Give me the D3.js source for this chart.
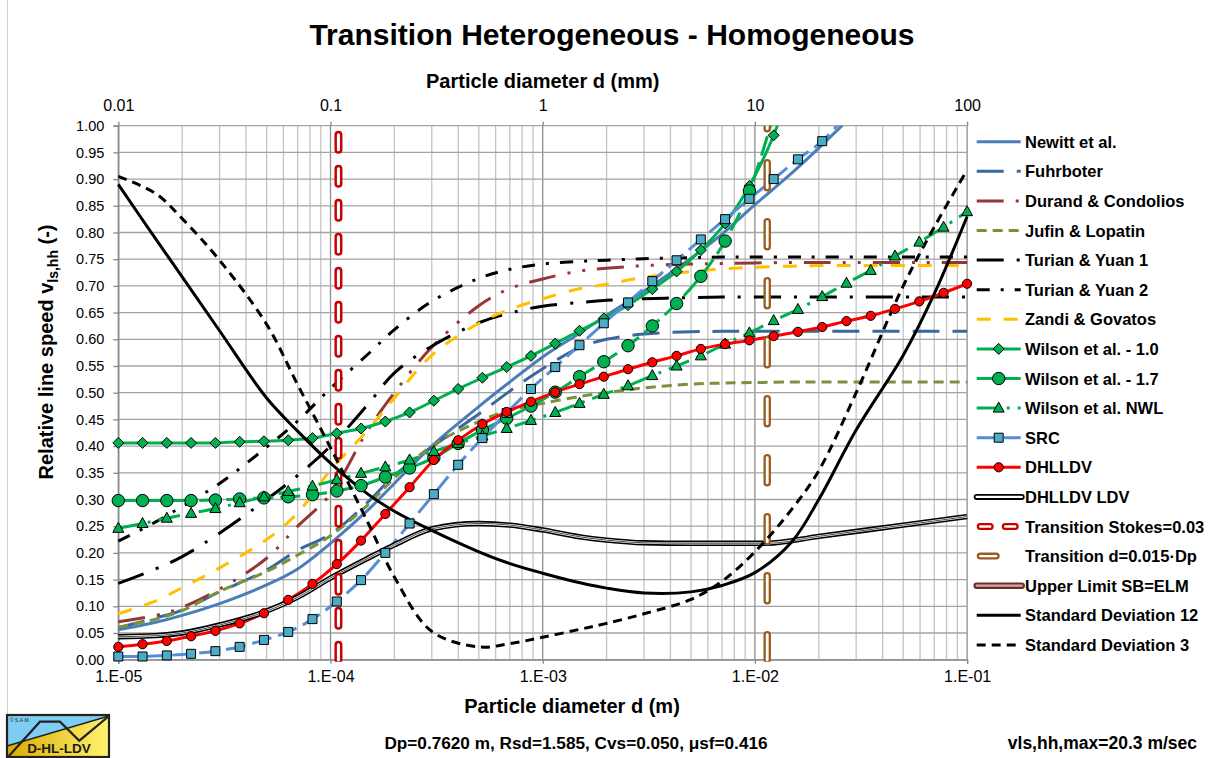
<!DOCTYPE html>
<html><head><meta charset="utf-8">
<script src="https://cdn.jsdelivr.net/npm/d3@7"></script>
<style>
body{margin:0;background:#fff;}
svg{display:block;font-family:"Liberation Sans",Arial,sans-serif;}
</style>
</head><body>
<svg id="chart" width="1213" height="758"></svg>
<script>
// ---------------- DATA ----------------
const yTicks = [0,0.05,0.10,0.15,0.20,0.25,0.30,0.35,0.40,0.45,0.50,0.55,0.60,0.65,0.70,0.75,0.80,0.85,0.90,0.95,1.00];
const decadesM = [1e-5,1e-4,1e-3,1e-2,1e-1];
const bottomLabels = ["1.E-05","1.E-04","1.E-03","1.E-02","1.E-01"];
const topLabels = ["0.01","0.1","1","10","100"];

// particle diameters (m) of the marker points
const dMarker = [1.000e-5,1.301e-5,1.693e-5,2.203e-5,2.868e-5,3.732e-5,4.857e-5,6.320e-5,8.224e-5,1.071e-4,1.393e-4,1.813e-4,2.359e-4,3.070e-4,3.995e-4,5.199e-4,6.766e-4,8.804e-4,1.146e-3,1.491e-3,1.940e-3,2.524e-3,3.285e-3,4.275e-3,5.563e-3,7.239e-3,9.420e-3,1.226e-2,1.595e-2,2.076e-2,2.701e-2,3.515e-2,4.574e-2,5.953e-2,7.746e-2,1.000e-1];
// particle diameters (m) for the curves without markers
const dCurve = [1e-5,1.5e-5,2e-5,3e-5,5e-5,7e-5,1e-4,1.5e-4,2e-4,3e-4,5e-4,7e-4,1e-3,1.5e-3,2e-3,3e-3,5e-3,7e-3,1e-2,1.5e-2,2e-2,3e-2,5e-2,7e-2,1e-1];
const dLdv = [1e-5,1.5e-5,2e-5,3e-5,5e-5,7e-5,1e-4,1.5e-4,2e-4,3e-4,5e-4,7e-4,1e-3,1.5e-3,2e-3,3e-3,5e-3,7e-3,1.143e-2,2e-2,5e-2,1e-1];

const newitt    = [0.056,0.070,0.083,0.105,0.140,0.170,0.218,0.280,0.330,0.400,0.474,0.520,0.567,0.612,0.645,0.690,0.752,0.797,0.852,0.912,0.958,1.025,1.100,1.160,1.220];
const fuhrboter = [0.060,0.078,0.093,0.127,0.168,0.205,0.235,0.295,0.345,0.398,0.460,0.503,0.545,0.585,0.600,0.610,0.614,0.615,0.615,0.615,0.615,0.615,0.615,0.615,0.615];
const durand    = [0.071,0.083,0.098,0.132,0.190,0.250,0.310,0.430,0.500,0.585,0.663,0.695,0.713,0.728,0.733,0.738,0.741,0.742,0.743,0.744,0.744,0.744,0.744,0.744,0.744];
const jufin     = [0.061,0.076,0.092,0.128,0.165,0.196,0.232,0.290,0.340,0.400,0.446,0.467,0.480,0.493,0.500,0.509,0.516,0.518,0.519,0.520,0.520,0.520,0.520,0.520,0.520];
const turian1   = [0.143,0.170,0.193,0.237,0.300,0.345,0.400,0.478,0.537,0.587,0.631,0.649,0.662,0.669,0.673,0.676,0.678,0.679,0.679,0.679,0.679,0.679,0.679,0.679,0.679];
const turian2   = [0.222,0.258,0.287,0.330,0.398,0.447,0.508,0.572,0.618,0.671,0.714,0.731,0.741,0.746,0.748,0.751,0.753,0.754,0.754,0.754,0.754,0.754,0.754,0.754,0.754];
const zandi     = [0.086,0.110,0.135,0.172,0.225,0.275,0.355,0.430,0.490,0.570,0.630,0.656,0.676,0.695,0.703,0.716,0.727,0.732,0.735,0.737,0.738,0.738,0.738,0.738,0.738];
const sd12      = [0.890,0.788,0.717,0.616,0.490,0.428,0.368,0.310,0.278,0.242,0.202,0.180,0.162,0.144,0.134,0.125,0.127,0.139,0.163,0.222,0.300,0.430,0.570,0.685,0.830];
const sd3       = [0.905,0.873,0.826,0.748,0.628,0.515,0.397,0.257,0.155,0.053,0.024,0.030,0.042,0.057,0.068,0.086,0.113,0.147,0.202,0.283,0.354,0.500,0.700,0.810,0.917];
const ldv       = [0.043,0.045,0.050,0.065,0.091,0.117,0.153,0.190,0.215,0.245,0.255,0.252,0.243,0.230,0.224,0.219,0.218,0.218,0.218,0.231,0.252,0.268];

const wilson10 = [0.406,0.406,0.406,0.406,0.406,0.408,0.409,0.411,0.415,0.424,0.433,0.446,0.463,0.485,0.507,0.528,0.548,0.569,0.592,0.616,0.639,0.664,0.694,0.727,0.767,0.817,0.887,0.982,1.120];
const wilson17 = [0.298,0.298,0.298,0.298,0.299,0.301,0.303,0.305,0.309,0.316,0.326,0.342,0.359,0.378,0.405,0.430,0.452,0.475,0.501,0.530,0.558,0.588,0.625,0.667,0.718,0.784,0.878,1.020];
const wilsonNWL = [0.246,0.255,0.265,0.274,0.283,0.294,0.305,0.315,0.325,0.337,0.349,0.361,0.374,0.390,0.405,0.419,0.433,0.448,0.463,0.480,0.497,0.513,0.532,0.550,0.569,0.591,0.612,0.635,0.656,0.680,0.705,0.729,0.756,0.782,0.810,0.839];
const src = [0.006,0.006,0.008,0.011,0.016,0.024,0.037,0.052,0.076,0.109,0.149,0.200,0.255,0.310,0.365,0.415,0.462,0.507,0.548,0.589,0.630,0.669,0.709,0.748,0.787,0.825,0.863,0.900,0.937,0.971,1.020];
const dhlldv = [0.024,0.029,0.035,0.044,0.054,0.068,0.087,0.112,0.142,0.179,0.223,0.273,0.323,0.374,0.411,0.441,0.464,0.483,0.501,0.516,0.530,0.544,0.557,0.569,0.582,0.591,0.598,0.606,0.614,0.623,0.634,0.644,0.657,0.671,0.687,0.704];

const dStokes = 1.09e-4;   // Transition Stokes=0.03
const dTrans  = 0.01143;   // Transition d=0.015*Dp

// ---------------- SETUP ----------------
const svg = d3.select("#chart");
const X0 = 118.3, X1 = 967.1, Y0 = 659.7, Y1 = 125.7;
const x = d3.scaleLog().domain([1e-5,1e-1]).range([X0,X1]);
const y = d3.scaleLinear().domain([0,1]).range([Y0,Y1]);

svg.append("rect").attr("width",1213).attr("height",758).attr("fill","#fff");
const defs = svg.append("defs");
defs.append("clipPath").attr("id","plotclip")
  .append("rect").attr("x",X0-2).attr("y",Y1).attr("width",X1-X0+4).attr("height",Y0-Y1+2);

// gridlines
const grid = svg.append("g");
const minor = [];
decadesM.slice(0,4).forEach(d=>{for(let k=2;k<=9;k++) minor.push(d*k);});
grid.selectAll(".vmin").data(minor).enter().append("line")
  .attr("x1",d=>x(d)).attr("x2",d=>x(d)).attr("y1",Y1).attr("y2",Y0)
  .attr("stroke","#c4c4c4").attr("stroke-width",1.3);
grid.selectAll(".vmaj").data(decadesM).enter().append("line")
  .attr("x1",d=>x(d)).attr("x2",d=>x(d)).attr("y1",Y1).attr("y2",Y0)
  .attr("stroke","#8c8c8c").attr("stroke-width",1.3);
grid.selectAll(".h").data(yTicks).enter().append("line")
  .attr("x1",X0).attr("x2",X1).attr("y1",d=>y(d)).attr("y2",d=>y(d))
  .attr("stroke","#a3a3a3").attr("stroke-width",1.3);

// axes
const axL = svg.append("g").attr("transform",`translate(${X0},0)`)
  .call(d3.axisLeft(y).tickValues(yTicks).tickFormat(d3.format(".2f")).tickSize(5).tickPadding(9));
const axB = svg.append("g").attr("transform",`translate(0,${Y0})`)
  .call(d3.axisBottom(x).tickValues(decadesM).tickFormat((d,i)=>bottomLabels[i]).tickSize(4).tickPadding(6.5));
const axT = svg.append("g").attr("transform",`translate(0,${Y1})`)
  .call(d3.axisTop(x).tickValues(decadesM).tickFormat((d,i)=>topLabels[i]).tickSize(4).tickPadding(11));
[axL,axB,axT].forEach(a=>{
  a.selectAll("path.domain").attr("stroke","#868686").attr("stroke-width",1.3);
  a.selectAll(".tick line").attr("stroke","#868686").attr("stroke-width",1.3);
  a.selectAll("text").attr("fill","#000").attr("font-family","Liberation Sans, Arial, sans-serif");
});
axL.selectAll("text").attr("font-size",14.5);
axB.selectAll("text").attr("font-size",16);
axT.selectAll("text").attr("font-size",16);
axT.select("path.domain").remove();

// ---------------- SERIES ----------------
const plot = svg.append("g").attr("clip-path","url(#plotclip)");
const lineGen = d3.line().x(d=>x(d[0])).y(d=>y(d[1])).curve(d3.curveCatmullRom.alpha(0.5));
const lineMono = d3.line().x(d=>x(d[0])).y(d=>y(d[1])).curve(d3.curveMonotoneX);
const zip = (xs,ys)=>ys.map((v,i)=>[xs[i],v]);

const diamond = "M0,-5.5L5.5,0L0,5.5L-5.5,0Z";
const triangle = "M0,-6L5.5,4L-5.5,4Z";
const square = "M-4.5,-4.5H4.5V4.5H-4.5Z";

const series = [
  {name:"Newitt et al.", xs:dCurve, ys:newitt, color:"#4a7ebb", dash:null},
  {name:"Fuhrboter", xs:dCurve, ys:fuhrboter, color:"#3a679e", dash:"27 13"},
  {name:"Durand & Condolios", xs:dCurve, ys:durand, color:"#953735", dash:"27 12 3 12 3 12"},
  {name:"Jufin & Lopatin", xs:dCurve, ys:jufin, color:"#77933c", dash:"10 6"},
  {name:"Turian & Yuan 1", xs:dCurve, ys:turian1, color:"#000", dash:"27 13 3 13"},
  {name:"Turian & Yuan 2", xs:dCurve, ys:turian2, color:"#000", dash:"13 11 3 11"},
  {name:"Zandi & Govatos", xs:dCurve, ys:zandi, color:"#ffc000", dash:"14 13"},
  {name:"Wilson et al. - 1.0", xs:dMarker, ys:wilson10, color:"#00b050", dash:null, marker:"diamond", mfill:"#00b050"},
  {name:"Wilson et al. - 1.7", xs:dMarker, ys:wilson17, color:"#00b050", dash:"20 7", marker:"bigcircle", mfill:"#00b050"},
  {name:"Wilson et al. NWL", xs:dMarker, ys:wilsonNWL, color:"#00b050", dash:"22 8 3 8", marker:"triangle", mfill:"#00b050"},
  {name:"SRC", xs:dMarker, ys:src, color:"#558ed5", dash:"20 7", marker:"square", mfill:"#4bacc6"},
  {name:"DHLLDV", xs:dMarker, ys:dhlldv, color:"#ff0000", dash:null, marker:"circle", mfill:"#ff0000"},
  {name:"DHLLDV LDV", xs:dLdv, ys:ldv, color:"#000", double:true},
  {name:"Transition Stokes=0.03", vline:dStokes, color:"#c80000", dash:"15 19", ldash:"10 15", w:8},
  {name:"Transition d=0.015·Dp", vline:dTrans, color:"#9c5b1e", dash:"25 34", ldash:"16 40", w:7.5},
  {name:"Upper Limit SB=ELM", legendOnly:true, color:"#6b2e2b"},
  {name:"Standard Deviation 12", xs:dCurve, ys:sd12, color:"#000", dash:null},
  {name:"Standard Deviation 3", xs:dCurve, ys:sd3, color:"#000", dash:"9 6"}
];

function drawMarker(g, type, fill, cx, cy){
  if(type==="circle") g.append("circle").attr("cx",cx).attr("cy",cy).attr("r",4.6).attr("fill",fill).attr("stroke","#000").attr("stroke-width",1);
  else if(type==="bigcircle") g.append("circle").attr("cx",cx).attr("cy",cy).attr("r",6.2).attr("fill",fill).attr("stroke","#000").attr("stroke-width",1);
  else {
    const p = type==="diamond"?diamond:type==="triangle"?triangle:square;
    g.append("path").attr("d",p).attr("transform",`translate(${cx},${cy})`).attr("fill",fill).attr("stroke","#000").attr("stroke-width",1);
  }
}

series.forEach(s=>{
  if(s.legendOnly) return;
  if(s.vline){
    const pts = [[s.vline,0],[s.vline,1]];
    const vl = d3.line().x(d=>x(d[0])).y(d=>y(d[1]));
    plot.append("path").attr("d",vl(pts))
      .attr("fill","none").attr("stroke",s.color).attr("stroke-width",s.w)
      .attr("stroke-linecap","round").attr("stroke-dasharray",s.dash);
    plot.append("path").attr("d",vl(pts))
      .attr("fill","none").attr("stroke","#fff").attr("stroke-width",s.w*0.38)
      .attr("stroke-linecap","round").attr("stroke-dasharray",s.dash);
    return;
  }
  const pts = zip(s.xs,s.ys);
  if(s.double){
    plot.append("path").attr("d",lineMono(pts)).attr("fill","none").attr("stroke","#000").attr("stroke-width",5.4);
    plot.append("path").attr("d",lineMono(pts)).attr("fill","none").attr("stroke","#fff").attr("stroke-width",2.2);
    plot.append("path").attr("d",lineMono(pts)).attr("fill","none").attr("stroke","#000").attr("stroke-width",0.7);
    return;
  }
  plot.append("path").attr("d",lineGen(pts)).attr("fill","none")
    .attr("stroke",s.color).attr("stroke-width",3)
    .attr("stroke-dasharray",s.dash||null);
  if(s.marker){
    const mg = svg.append("g");
    pts.filter(p=>p[1]<=1.0).forEach(p=>drawMarker(mg,s.marker,s.mfill,x(p[0]),y(p[1])));
  }
});

// ---------------- LEGEND ----------------
const lg = svg.append("g");
const LX1 = 976.7, LX2 = 1020.7, LMID = 998.7, LTX = 1025;
series.forEach((s,i)=>{
  const cy = 141.7 + i*29.6;
  const row = lg.append("g");
  if(s.vline){
    row.append("line").attr("x1",LX1+3.5).attr("x2",LX2).attr("y1",cy).attr("y2",cy)
      .attr("stroke",s.color).attr("stroke-width",7).attr("stroke-linecap","round").attr("stroke-dasharray",s.ldash);
    row.append("line").attr("x1",LX1+3.5).attr("x2",LX2).attr("y1",cy).attr("y2",cy)
      .attr("stroke","#fff").attr("stroke-width",2.4).attr("stroke-linecap","round").attr("stroke-dasharray",s.ldash);
  } else if(s.legendOnly){
    row.append("line").attr("x1",LX1).attr("x2",LX2+1).attr("y1",cy).attr("y2",cy)
      .attr("stroke",s.color).attr("stroke-width",6.5).attr("stroke-linecap","round");
    row.append("line").attr("x1",LX1).attr("x2",LX2+1).attr("y1",cy).attr("y2",cy)
      .attr("stroke","#d6a9a6").attr("stroke-width",2.2).attr("stroke-linecap","round");
  } else if(s.double){
    row.append("line").attr("x1",LX1).attr("x2",LX2+1).attr("y1",cy).attr("y2",cy)
      .attr("stroke","#000").attr("stroke-width",6).attr("stroke-linecap","round");
    row.append("line").attr("x1",LX1).attr("x2",LX2+1).attr("y1",cy).attr("y2",cy)
      .attr("stroke","#fff").attr("stroke-width",2.4).attr("stroke-linecap","round");
  } else {
    row.append("line").attr("x1",LX1).attr("x2",LX2).attr("y1",cy).attr("y2",cy)
      .attr("stroke",s.color).attr("stroke-width",3).attr("stroke-dasharray",s.dash||null);
    if(s.marker) drawMarker(row,s.marker,s.mfill,LMID,cy);
  }
  row.append("text").attr("x",LTX).attr("y",cy+6).attr("font-size",16.5).attr("font-weight","bold").text(s.name);
});

// ---------------- TEXTS ----------------
svg.append("text").attr("x",612).attr("y",45).attr("text-anchor","middle")
  .attr("font-size",30).attr("font-weight","bold").text("Transition Heterogeneous - Homogeneous");
svg.append("text").attr("x",542.7).attr("y",88).attr("text-anchor","middle")
  .attr("font-size",20).attr("font-weight","bold").text("Particle diameter d (mm)");
svg.append("text").attr("x",572).attr("y",713).attr("text-anchor","middle")
  .attr("font-size",20).attr("font-weight","bold").text("Particle diameter d (m)");
const yt = svg.append("text").attr("transform","translate(53,352) rotate(-90)").attr("text-anchor","middle")
  .attr("font-size",20).attr("font-weight","bold");
yt.append("tspan").text("Relative line speed v");
yt.append("tspan").attr("font-size",14).attr("dy",5).text("ls,hh");
yt.append("tspan").attr("dy",-5).text(" (-)");
svg.append("text").attr("x",576).attr("y",749).attr("text-anchor","middle")
  .attr("font-size",17.2).attr("font-weight","bold").text("Dp=0.7620 m, Rsd=1.585, Cvs=0.050, μsf=0.416");
svg.append("text").attr("x",1197).attr("y",749).attr("text-anchor","end")
  .attr("font-size",17.5).attr("font-weight","bold").text("vls,hh,max=20.3 m/sec");

// chart border (left)
svg.append("line").attr("x1",7.5).attr("x2",7.5).attr("y1",0).attr("y2",715).attr("stroke","#d0d0d0").attr("stroke-width",1);

// ---------------- LOGO ----------------
const logo = svg.append("g").attr("transform","translate(7,715)");
const grad = defs.append("linearGradient").attr("id","ylw").attr("x1","0").attr("x2","1").attr("y1","0").attr("y2","0");
grad.append("stop").attr("offset","0").attr("stop-color","#dcaa00");
grad.append("stop").attr("offset","1").attr("stop-color","#fff36e");
logo.append("rect").attr("x",0).attr("y",0).attr("width",102).attr("height",42).attr("fill","url(#ylw)");
logo.append("path").attr("d","M0,0H102V1L0,31Z").attr("fill","#7fcdf2");
logo.append("path").attr("d","M0,31L102,1").attr("stroke","#222").attr("stroke-width",1.5);
logo.append("path").attr("d","M1,42L33,6.7H53L72.3,25.7L102,1").attr("fill","none").attr("stroke","#222").attr("stroke-width",2.2);
logo.append("rect").attr("x",0).attr("y",0).attr("width",102).attr("height",42).attr("fill","none").attr("stroke","#222").attr("stroke-width",2.2);
logo.append("text").attr("x",52).attr("y",38).attr("text-anchor","middle").attr("font-size",13.5).attr("font-weight","bold").attr("fill","#1a1a1a").text("D-HL-LDV");
logo.append("text").attr("x",3).attr("y",6.5).attr("font-size",5).attr("fill","#222").text("© S.A.M.");
</script>
</body></html>
